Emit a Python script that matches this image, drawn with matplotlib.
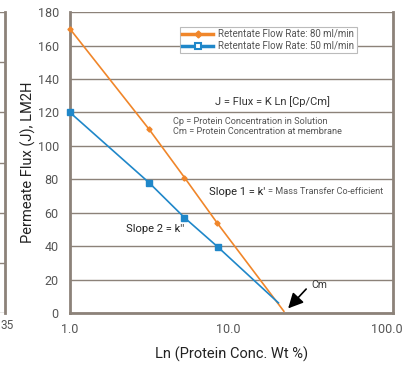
import matplotlib
matplotlib.use("Agg")
import matplotlib.pyplot as plt
from matplotlib.lines import Line2D

plt.rcParams['font.family'] = ['Roboto', 'DejaVu Sans']

# Data
conc_80 = [1.0, 3.16, 5.3, 8.5, 22.5]
flux_80 = [170, 110, 81, 54, 1]
conc_50 = [1.0, 3.16, 5.3, 8.6, 20.8]
flux_50 = [120, 78, 57, 39.5, 6]
marker_idx = [0, 1, 2, 3]
yticks = [0, 20, 40, 60, 80, 100, 120, 140, 160, 180]
xticks = [1, 10, 100]
xticklabels = ["1.0", "10.0", "100.0"]

ORANGE = "#f0862a"
BLUE = "#1f87c9"
FRAME = "#8c8279"
TXT = "#555555"

fig = plt.figure(figsize=(4.11, 3.66), dpi=100)

# fragment of neighbouring chart on the left
ax0 = fig.add_axes([-0.05, 0.145, 0.062, 0.822])
ax0.set_xlim(0, 1)
ax0.set_ylim(0, 6)
for v in range(7):
    ax0.axhline(v, color=FRAME, lw=1)
for s in ["left", "top", "bottom"]:
    ax0.spines[s].set_visible(False)
ax0.spines["right"].set_color(FRAME)
ax0.spines["right"].set_linewidth(2)
ax0.set_xticks([]); ax0.set_yticks([])
fig.text(0.001, 0.112, "35", fontsize=8.5, color=TXT, ha="left", va="center")

ax = fig.add_axes([0.170, 0.145, 0.786, 0.822])
ax.set_xscale("log")
ax.set_xlim(1, 110)
ax.set_ylim(0, 180)
ax.set_yticks(yticks)
ax.set_xticks(xticks)
ax.set_xticklabels(xticklabels)
ax.minorticks_off()
ax.tick_params(length=0, labelsize=9, labelcolor=TXT)
ax.tick_params(axis="y", pad=8)
ax.tick_params(axis="x", pad=7)
ax.grid(axis="y", color=FRAME, lw=1)
ax.set_axisbelow(True)
ax.spines["top"].set_visible(False)
for s in ["left", "right", "bottom"]:
    ax.spines[s].set_color(FRAME)
    ax.spines[s].set_linewidth(2)

ax.plot(conc_80, flux_80, color=ORANGE, lw=1.2, marker="D", ms=2.6,
        markevery=marker_idx, clip_on=False, zorder=3)
ax.plot(conc_50, flux_50, color=BLUE, lw=1.2, marker="s", ms=4,
        markevery=marker_idx, clip_on=False, zorder=3)

handles = [
    Line2D([], [], color=ORANGE, lw=2.5, marker="D", ms=3.5),
    Line2D([], [], color=BLUE, lw=2.5, marker="s", ms=5, markerfacecolor="white",
           markeredgewidth=1.5),
]
leg = ax.legend(handles, ["Retentate Flow Rate: 80 ml/min", "Retentate Flow Rate: 50 ml/min"],
                loc="upper left", bbox_to_anchor=(0.34, 0.952), fontsize=7,
                frameon=True, fancybox=False, edgecolor="#bbbbbb", framealpha=1,
                handlelength=3.2, borderpad=0.25, labelspacing=0.2, handletextpad=0.5,
                borderaxespad=0, handleheight=0.6)
leg.get_frame().set_linewidth(0.8)
for t in leg.get_texts():
    t.set_color(TXT)

ax.text(0.628, 0.703, "J = Flux = K Ln [Cp/Cm]", transform=ax.transAxes,
        fontsize=8, color="#333333", ha="center", va="center")
ax.text(0.318, 0.652, "Cp = Protein Concentration in Solution\nCm = Protein Concentration at membrane",
        transform=ax.transAxes, fontsize=6.6, color=TXT, ha="left", va="top",
        linespacing=1.2, bbox=dict(facecolor="white", edgecolor="none", pad=1.5))
ax.text(0.43, 0.402, "Slope 1 = k'", transform=ax.transAxes, fontsize=8,
        color="#222222", ha="left", va="center")
ax.text(0.612, 0.402, "= Mass Transfer Co-efficient", transform=ax.transAxes,
        fontsize=6.6, color=TXT, ha="left", va="center")
ax.text(0.175, 0.278, "Slope 2 = k''", transform=ax.transAxes, fontsize=8,
        color="#222222", ha="left", va="center")
ax.annotate("", xy=(23.3, 1.5), xytext=(32, 15.5),
            arrowprops=dict(arrowstyle="-|>,head_width=0.45,head_length=0.9",
                            color="black", lw=1.2))
ax.text(33.5, 16.5, "Cm", fontsize=7.5, color="#333333", ha="left", va="center")

ax.set_ylabel("Permeate Flux (J), LM2H", fontsize=10.5, color="#222222", labelpad=1)
ax.set_xlabel("Ln (Protein Conc. Wt %)", fontsize=10.5, color="#222222", labelpad=8)

fig.savefig("out.png", dpi=100)
